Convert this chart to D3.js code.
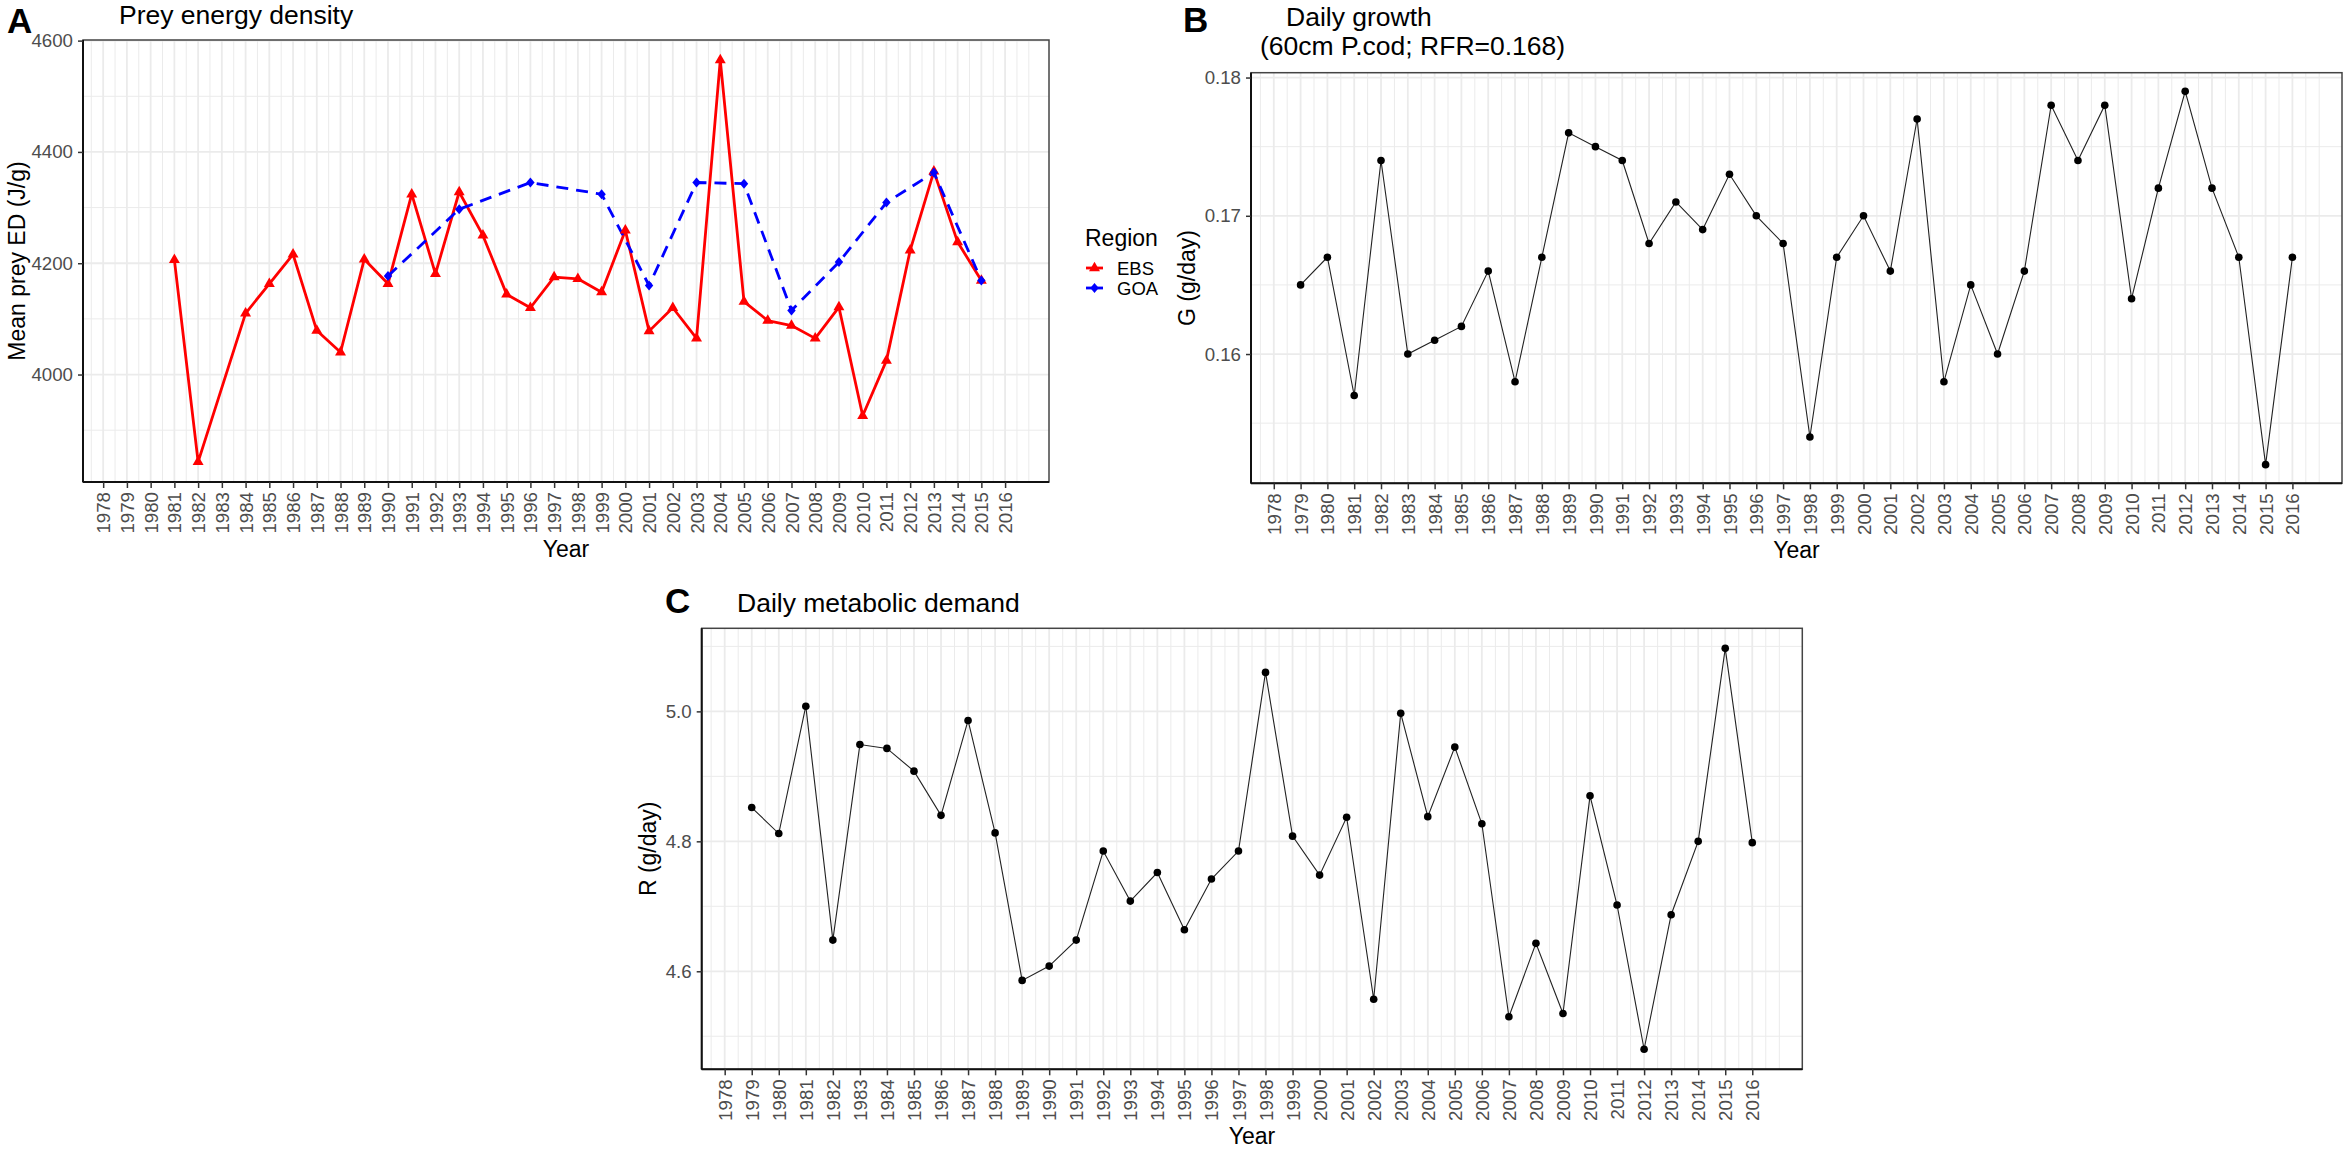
<!DOCTYPE html>
<html>
<head>
<meta charset="utf-8">
<script src="https://cdn.jsdelivr.net/npm/d3@7"></script>
<style>
  body { margin: 0; background: #fff; }
  text { font-family: "Liberation Sans", Arial, sans-serif; }
</style>
</head>
<body>
<svg id="chart" width="2349" height="1149"></svg>
<script>
// ---- data ----
const yearTicks = d3.range(1978, 2017);
const yearLimits = [1979, 2016];

// A: prey energy density (J/g)
const ebsYears = [1981, 1982, 1984, 1985, 1986, 1987, 1988, 1989, 1990, 1991, 1992, 1993, 1994, 1995, 1996, 1997, 1998,
  1999, 2000, 2001, 2002, 2003, 2004, 2005, 2006, 2007, 2008, 2009, 2010, 2011, 2012, 2013, 2014, 2015];
const ebsED = [4206, 3843, 4110, 4163, 4216, 4079, 4040, 4207, 4163, 4324, 4181, 4328, 4250, 4144, 4120, 4175, 4172,
  4148, 4259, 4078, 4120, 4065, 4565, 4131, 4097, 4088, 4065, 4121, 3926, 4025, 4223, 4365, 4238, 4169];
const goaYears = [1990, 1993, 1996, 1999, 2001, 2003, 2005, 2007, 2009, 2011, 2013, 2015];
const goaED = [4177, 4297, 4345, 4324, 4160, 4345, 4343, 4115, 4202, 4309, 4363, 4169];
const edTicks = [4000, 4200, 4400, 4600];

// B: daily growth (g/day)
const growthYears = [1979, 1980, 1981, 1982, 1983, 1984, 1985, 1986, 1987, 1988, 1989, 1990, 1991, 1992, 1993, 1994,
  1995, 1996, 1997, 1998, 1999, 2000, 2001, 2002, 2003, 2004, 2005, 2006, 2007, 2008, 2009, 2010, 2011, 2012, 2013,
  2014, 2015, 2016];
const growth = [0.165, 0.167, 0.157, 0.174, 0.160, 0.161, 0.162, 0.166, 0.158, 0.167, 0.176, 0.175, 0.174, 0.168,
  0.171, 0.169, 0.173, 0.170, 0.168, 0.154, 0.167, 0.170, 0.166, 0.177, 0.158, 0.165, 0.160, 0.166, 0.178, 0.174,
  0.178, 0.164, 0.172, 0.179, 0.172, 0.167, 0.152, 0.167];
const growthTicks = [0.16, 0.17, 0.18];

// C: daily metabolic demand (g/day)
const demandYears = growthYears;
const demand = [4.852, 4.812, 5.008, 4.648, 4.949, 4.943, 4.908, 4.840, 4.986, 4.813, 4.586, 4.608, 4.648, 4.785,
  4.708, 4.752, 4.664, 4.742, 4.785, 5.060, 4.808, 4.748, 4.837, 4.557, 4.997, 4.838, 4.945, 4.827, 4.530, 4.643,
  4.535, 4.870, 4.702, 4.480, 4.687, 4.800, 5.097, 4.798];
const demandTicks = [4.6, 4.8, 5.0];

// ---- helpers ----
const svg = d3.select("#chart");
const GRID = "#EBEBEB";
const TICKTXT = "#4D4D4D";

function expand(ext, f = 0.05) {
  const r = ext[1] - ext[0];
  return [ext[0] - r * f, ext[1] + r * f];
}

// ggplot-like minor breaks: half steps plus whole steps past the end majors
function minorBreaks(majors, domain) {
  const step = majors[1] - majors[0];
  const b = majors.slice();
  if (domain[0] < b[0]) b.unshift(b[0] - step);
  if (domain[1] > b[b.length - 1]) b.push(b[b.length - 1] + step);
  const out = [];
  for (let i = 0; i < b.length - 1; i++) out.push(b[i] + step / 2);
  return out.concat(b.filter(v => !majors.includes(v)))
    .filter(v => v > domain[0] && v < domain[1]);
}

function panel(box, yExtent, yTicks, yFmt) {
  const g = svg.append("g");
  const xd = expand(yearLimits);
  const yd = expand(yExtent);
  const x = d3.scaleLinear().domain(xd).range([box.left, box.right]);
  const y = d3.scaleLinear().domain(yd).range([box.bottom, box.top]);

  const grid = g.append("g");
  grid.selectAll(".vminor").data(minorBreaks(yearTicks, xd)).join("line")
    .attr("x1", d => x(d)).attr("x2", d => x(d))
    .attr("y1", box.top).attr("y2", box.bottom)
    .attr("stroke", GRID).attr("stroke-width", 1);
  grid.selectAll(".hminor").data(minorBreaks(yTicks, yd)).join("line")
    .attr("x1", box.left).attr("x2", box.right)
    .attr("y1", d => y(d)).attr("y2", d => y(d))
    .attr("stroke", GRID).attr("stroke-width", 1);
  grid.selectAll(".vmajor").data(yearTicks).join("line")
    .attr("x1", d => x(d)).attr("x2", d => x(d))
    .attr("y1", box.top).attr("y2", box.bottom)
    .attr("stroke", GRID).attr("stroke-width", 1.8);
  grid.selectAll(".hmajor").data(yTicks).join("line")
    .attr("x1", box.left).attr("x2", box.right)
    .attr("y1", d => y(d)).attr("y2", d => y(d))
    .attr("stroke", GRID).attr("stroke-width", 1.8);

  const marks = g.append("g");

  // border + axes drawn after the marks
  const deco = () => {
    g.append("rect")
      .attr("x", box.left).attr("y", box.top)
      .attr("width", box.right - box.left).attr("height", box.bottom - box.top)
      .attr("fill", "none").attr("stroke", "#444").attr("stroke-width", 1.5);
    g.append("line").attr("x1", box.left).attr("x2", box.left)
      .attr("y1", box.top).attr("y2", box.bottom).attr("stroke", "#111").attr("stroke-width", 2);
    g.append("line").attr("x1", box.left).attr("x2", box.right)
      .attr("y1", box.bottom).attr("y2", box.bottom).attr("stroke", "#111").attr("stroke-width", 2);

    const xa = g.append("g").attr("transform", `translate(0,${box.bottom})`)
      .call(d3.axisBottom(x).tickValues(yearTicks).tickSize(6).tickFormat(d3.format("d")));
    xa.select(".domain").remove();
    xa.selectAll(".tick line").attr("stroke", "#333").attr("stroke-width", 1.5);
    xa.selectAll(".tick text")
      .attr("transform", "rotate(-90)")
      .attr("text-anchor", "end")
      .attr("x", -10).attr("y", 0).attr("dy", "0.35em")
      .attr("fill", TICKTXT).style("font-size", "18.7px");

    const ya = g.append("g").attr("transform", `translate(${box.left},0)`)
      .call(d3.axisLeft(y).tickValues(yTicks).tickSize(5).tickPadding(5).tickFormat(yFmt));
    ya.select(".domain").remove();
    ya.selectAll(".tick line").attr("stroke", "#333").attr("stroke-width", 1.5);
    ya.selectAll(".tick text").attr("fill", TICKTXT).style("font-size", "18.7px");

    g.append("text")
      .attr("x", (box.left + box.right) / 2).attr("y", box.bottom + 75)
      .attr("text-anchor", "middle").style("font-size", "23px").text("Year");
    g.append("text")
      .attr("transform", `translate(${box.yLabelX},${(box.top + box.bottom) / 2}) rotate(-90)`)
      .attr("text-anchor", "middle").style("font-size", "23px").text(box.yLabel);
  };
  return { g, x, y, marks, deco };
}

function tag(x, y, s) {
  svg.append("text").attr("x", x).attr("y", y)
    .style("font-size", "35px").style("font-weight", "bold").text(s);
}
function title(x, y, s) {
  svg.append("text").attr("x", x).attr("y", y).style("font-size", "26.5px").text(s);
}

// ---- Panel A ----
{
  const box = { left: 83, right: 1049, top: 40, bottom: 482, yLabel: "Mean prey ED (J/g)", yLabelX: 25 };
  const ebs = ebsYears.map((yr, i) => ({ yr, v: ebsED[i] }));
  const goa = goaYears.map((yr, i) => ({ yr, v: goaED[i] }));
  const p = panel(box, d3.extent(ebsED.concat(goaED)), edTicks, d3.format("d"));
  const line = d3.line().x(d => p.x(d.yr)).y(d => p.y(d.v));

  p.marks.append("path").datum(ebs).attr("d", line)
    .attr("fill", "none").attr("stroke", "#FF0000").attr("stroke-width", 2.8).attr("stroke-linejoin", "round");
  p.marks.append("path").datum(goa).attr("d", line)
    .attr("fill", "none").attr("stroke", "#0000FF").attr("stroke-width", 2.8)
    .attr("stroke-dasharray", "12,8");
  const tri = d3.symbol(d3.symbolTriangle).size(52);
  p.marks.selectAll(".ebs").data(ebs).join("path")
    .attr("transform", d => `translate(${p.x(d.yr)},${p.y(d.v)})`)
    .attr("d", tri).attr("fill", "#FF0000");
  const diamond = "M0,-5L4.2,0L0,5L-4.2,0Z";
  p.marks.selectAll(".goa").data(goa).join("path")
    .attr("transform", d => `translate(${p.x(d.yr)},${p.y(d.v)})`)
    .attr("d", diamond).attr("fill", "#0000FF");
  p.deco();

  // legend
  const lg = svg.append("g");
  lg.append("text").attr("x", 1085).attr("y", 246).style("font-size", "23px").text("Region");
  const keys = [
    { name: "EBS", col: "#FF0000", y: 268, shape: tri() },
    { name: "GOA", col: "#0000FF", y: 288, shape: diamond }
  ];
  keys.forEach(k => {
    lg.append("line").attr("x1", 1086).attr("x2", 1103).attr("y1", k.y).attr("y2", k.y)
      .attr("stroke", k.col).attr("stroke-width", 2.8);
    lg.append("path").attr("transform", `translate(1094.5,${k.y})`).attr("d", k.shape).attr("fill", k.col);
    lg.append("text").attr("x", 1117).attr("y", k.y + 7).style("font-size", "18.5px").text(k.name);
  });

  tag(7, 33, "A");
  title(119, 24, "Prey energy density");
}

// ---- Panel B ----
{
  const box = { left: 1251, right: 2342, top: 72.7, bottom: 483.3, yLabel: "G (g/day)", yLabelX: 1195 };
  const data = growthYears.map((yr, i) => ({ yr, v: growth[i] }));
  const p = panel(box, d3.extent(growth), growthTicks, d3.format(".2f"));
  p.marks.append("path").datum(data)
    .attr("d", d3.line().x(d => p.x(d.yr)).y(d => p.y(d.v)))
    .attr("fill", "none").attr("stroke", "#222").attr("stroke-width", 1.1);
  p.marks.selectAll("circle").data(data).join("circle")
    .attr("cx", d => p.x(d.yr)).attr("cy", d => p.y(d.v)).attr("r", 3.8).attr("fill", "#000");
  p.deco();

  tag(1183, 32, "B");
  title(1286, 26, "Daily growth");
  title(1260, 54.5, "(60cm P.cod; RFR=0.168)");
}

// ---- Panel C ----
{
  const box = { left: 701.7, right: 1802.3, top: 628.3, bottom: 1069.3, yLabel: "R (g/day)", yLabelX: 656 };
  const data = demandYears.map((yr, i) => ({ yr, v: demand[i] }));
  const p = panel(box, d3.extent(demand), demandTicks, d3.format(".1f"));
  p.marks.append("path").datum(data)
    .attr("d", d3.line().x(d => p.x(d.yr)).y(d => p.y(d.v)))
    .attr("fill", "none").attr("stroke", "#222").attr("stroke-width", 1.1);
  p.marks.selectAll("circle").data(data).join("circle")
    .attr("cx", d => p.x(d.yr)).attr("cy", d => p.y(d.v)).attr("r", 3.8).attr("fill", "#000");
  p.deco();

  tag(665, 613, "C");
  title(737, 611.7, "Daily metabolic demand");
}
</script>
</body>
</html>
